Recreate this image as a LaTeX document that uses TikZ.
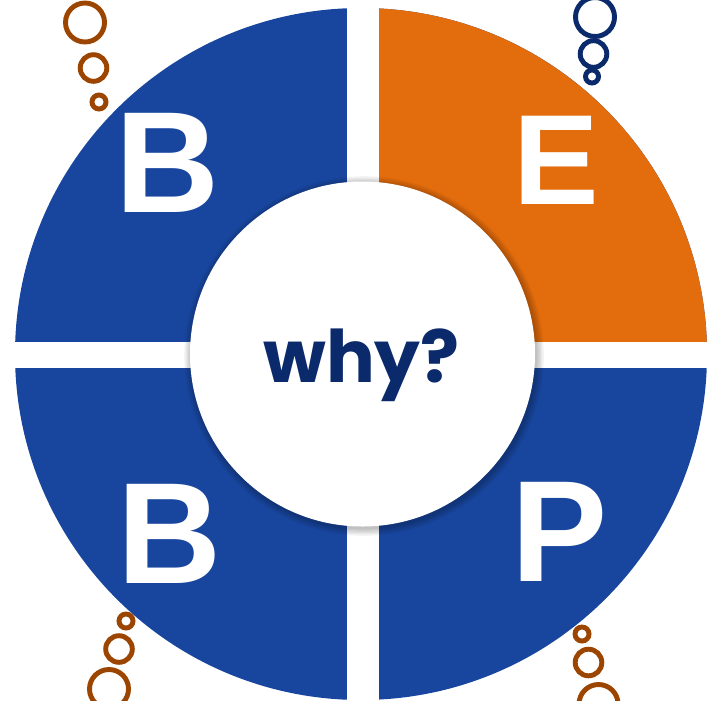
\documentclass[tikz,border=0pt]{standalone}
\usepackage{fontspec}
\setmainfont{Liberation Sans}
\newfontfamily\whyfont{Poppins}
\definecolor{bepblue}{HTML}{18469E}
\definecolor{beporange}{HTML}{E36C0D}
\definecolor{bepnavy}{HTML}{0B2A6B}
\definecolor{bepbrown}{HTML}{9C4500}
\begin{document}
\begin{tikzpicture}[x=0.01cm,y=-0.01cm,
  letter/.style={text=white, inner sep=0pt, anchor=base, font=\fontsize{41}{41}\selectfont\bfseries},
  bubble/.style={draw=bepbrown, line width=1.4pt},
  navybubble/.style={draw=bepnavy, line width=1.4pt}]
\useasboundingbox (0,0) rectangle (707,700);
\clip (0,0) rectangle (707,700);

% ring in four parts
\fill[bepblue] (361,354) circle (346);
\begin{scope}
\clip (361,354) rectangle (720,-10);
\fill[beporange] (361,354) circle (346);
\end{scope}
\fill[white] (347,-10) rectangle (379,710);
\fill[white] (-10,342) rectangle (720,368);

% centre
\foreach \i in {1,...,6}
  \fill[black, opacity=0.045] (364,356) circle (172+1.3*\i);
\fill[white] (362.5,354) circle (172.5);
\node[inner sep=0pt, anchor=base, text=bepnavy, font=\whyfont\fontsize{20.6}{20.6}\selectfont\bfseries] (why) at (361.5,382) {why?};

\node[letter] (b1) at (167.5,212) {B};
\node[letter, font=\fontsize{36.5}{36.5}\selectfont\bfseries] (e) at (556,204) {E};
\node[letter] (b2) at (169.5,583) {B};
\node[letter] (p) at (559.5,581) {P};

% bubbles
\draw[bubble] (85,22.5) circle (19.5);
\draw[bubble] (93.5,68) circle (13.3);
\draw[bubble] (99,102) circle (7);
\draw[navybubble] (595,17) circle (19.5);
\draw[navybubble] (593.5,54) circle (13.3);
\draw[navybubble] (592,76.5) circle (6.5);
\draw[bubble] (126,621) circle (7);
\draw[bubble] (119,649) circle (13.3);
\draw[bubble] (109,689) circle (19.5);
\draw[bubble] (582,634) circle (7);
\draw[bubble] (588.5,662.5) circle (13.3);
\draw[bubble] (598.5,704) circle (19.5);
\end{tikzpicture}
\end{document}
